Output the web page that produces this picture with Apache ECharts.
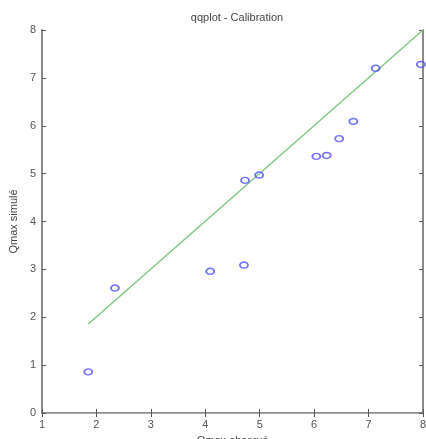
<!DOCTYPE html>
<html><head><meta charset="utf-8">
<script src="https://cdn.jsdelivr.net/npm/echarts@6/dist/echarts.min.js"></script>
<style>html,body{margin:0;padding:0;background:#fff}#c{width:426px;height:439px}</style>
</head><body><div id="c"></div>
<script>
const observed = [1.85, 2.34, 4.09, 4.71, 4.73, 4.99, 6.04, 6.23, 6.46, 6.72, 7.13, 7.96];
const simulated = [0.86, 2.61, 2.96, 3.09, 4.86, 4.97, 5.36, 5.38, 5.73, 6.09, 7.20, 7.28];
const refLineX = [1.85, 8];
const refLineY = [1.86, 8];
const xTicks = [1, 2, 3, 4, 5, 6, 7, 8];
const yTicks = [0, 1, 2, 3, 4, 5, 6, 7, 8];

const chart = echarts.init(document.getElementById('c'), null, {renderer: 'canvas'});
const axisCol = '#8a8a8a';
const font = 'Liberation Sans, Arial, sans-serif';
const labelStyle = {color: '#555', fontSize: 11, fontFamily: font};
chart.setOption({
  animation: false,
  backgroundColor: '#fff',
  title: {text: 'qqplot - Calibration', left: 232, top: 7, textAlign: 'center',
    textStyle: {fontSize: 11, fontWeight: 'normal', color: '#444', fontFamily: font}},
  grid: {left: 42, right: 3, top: 30, bottom: 26, containLabel: false, outerBoundsMode: 'none'},
  xAxis: [{
    type: 'value', min: xTicks[0], max: xTicks[xTicks.length-1], interval: 1,
    name: 'Qmax observé', nameLocation: 'middle', nameGap: 22,
    nameTextStyle: {color: '#444', fontSize: 11, fontFamily: font},
    axisLine: {lineStyle: {color: axisCol, width: 2}},
    axisTick: {inside: true, length: 4, lineStyle: {color: '#555'}},
    axisLabel: Object.assign({margin: 6}, labelStyle),
    splitLine: {show: false}
  }, {
    type: 'value', position: 'top', min: xTicks[0], max: xTicks[xTicks.length-1], interval: 1,
    axisLine: {show: true, lineStyle: {color: '#aaa', width: 1}},
    axisTick: {inside: true, length: 4, lineStyle: {color: '#555'}},
    axisLabel: {show: false}, splitLine: {show: false}
  }],
  yAxis: [{
    type: 'value', min: yTicks[0], max: yTicks[yTicks.length-1], interval: 1,
    name: 'Qmax simulé', nameLocation: 'middle', nameGap: 22, nameRotate: 90,
    nameTextStyle: {color: '#444', fontSize: 11, fontFamily: font},
    axisLine: {show: true, lineStyle: {color: axisCol, width: 2}},
    axisTick: {show: true, inside: true, length: 4, lineStyle: {color: '#555'}},
    axisLabel: Object.assign({margin: 6}, labelStyle),
    splitLine: {show: false}
  }, {
    type: 'value', position: 'right', min: yTicks[0], max: yTicks[yTicks.length-1], interval: 1,
    axisLine: {show: true, lineStyle: {color: axisCol, width: 2}},
    axisTick: {show: true, inside: true, length: 4, lineStyle: {color: '#555'}},
    axisLabel: {show: false}, splitLine: {show: false}
  }],
  series: [{
    type: 'line', data: refLineX.map((x, i) => [x, refLineY[i]]),
    showSymbol: false, lineStyle: {color: '#80c880', width: 1.5}, z: 2
  }, {
    type: 'scatter', data: observed.map((x, i) => [x, simulated[i]]),
    symbol: 'circle', symbolSize: [8, 6],
    itemStyle: {color: 'rgba(0,0,0,0)', borderColor: '#4d4dff', borderWidth: 1.6}, z: 3
  }]
});
</script></body></html>
